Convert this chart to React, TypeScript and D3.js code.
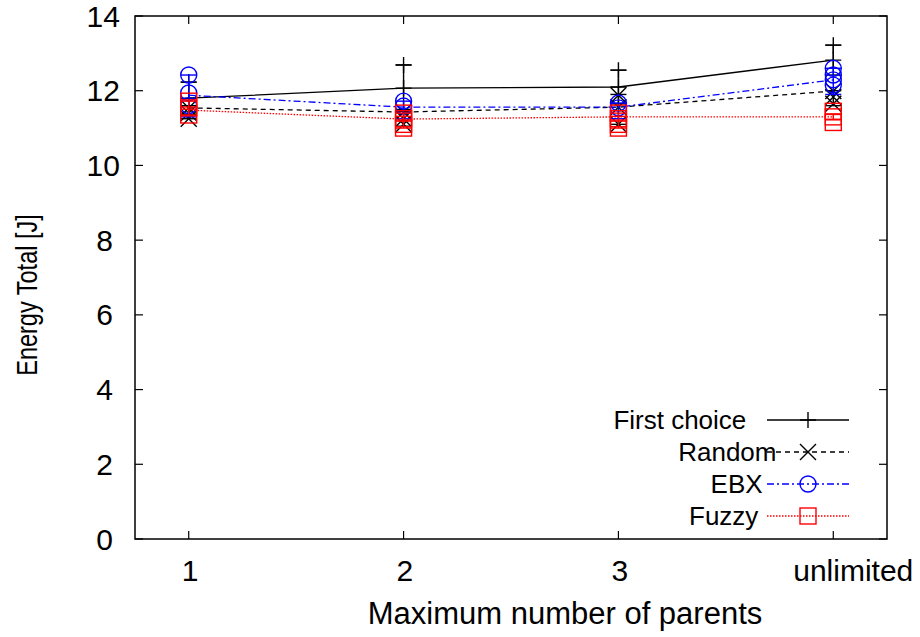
import React from "react";
import * as d3 from "d3";

const categories = ["1", "2", "3", "unlimited"];
const seriesNames = ["First choice", "Random", "EBX", "Fuzzy"];
const yTicks = [0, 2, 4, 6, 8, 10, 12, 14];

const firstChoiceMean = [11.8, 12.07, 12.1, 12.82];
const firstChoiceLow = [11.37, 11.45, 11.65, 12.42];
const firstChoiceHigh = [12.23, 12.69, 12.55, 13.22];
const firstChoicePoints = [[11.8, 12.23], [12.07, 12.69], [12.1, 12.55], [12.82, 13.22]];

const randomMean = [11.54, 11.43, 11.56, 11.99];
const randomLow = [11.25, 11.05, 11.1, 11.6];
const randomHigh = [11.6, 11.5, 11.9, 12.0];
const randomPoints = [[11.54, 11.4, 11.25], [11.43, 11.25, 11.1], [11.88, 11.56, 11.1], [11.99, 11.83, 11.65]];

const ebxMean = [11.88, 11.56, 11.56, 12.29];
const ebxLow = [11.3, 11.25, 11.25, 11.9];
const ebxHigh = [12.42, 11.72, 11.67, 12.6];
const ebxPoints = [[12.42, 11.94, 11.6], [11.72, 11.59], [11.67, 11.54], [12.6, 12.42, 12.29, 12.15]];

const fuzzyMean = [11.48, 11.24, 11.3, 11.3];
const fuzzyLow = [11.35, 11.0, 11.0, 11.22];
const fuzzyHigh = [11.72, 11.4, 11.4, 11.38];
const fuzzyPoints = [
  [11.72, 11.54, 11.35],
  [11.4, 11.25, 11.1, 11.0],
  [11.4, 11.25, 11.1, 11.0],
  [11.45, 11.3, 11.15],
];

type Series = {
  name: string;
  color: string;
  dash: string;
  marker: "plus" | "cross" | "circle" | "square";
  mean: number[];
  low: number[];
  high: number[];
  points: number[][];
};

const series: Series[] = [
  { name: seriesNames[0], color: "#000000", dash: "none", marker: "plus", mean: firstChoiceMean, low: firstChoiceLow, high: firstChoiceHigh, points: firstChoicePoints },
  { name: seriesNames[1], color: "#000000", dash: "5,4", marker: "cross", mean: randomMean, low: randomLow, high: randomHigh, points: randomPoints },
  { name: seriesNames[2], color: "#0000ff", dash: "7,3,2,3", marker: "circle", mean: ebxMean, low: ebxLow, high: ebxHigh, points: ebxPoints },
  { name: seriesNames[3], color: "#ff0000", dash: "1.5,1.5", marker: "square", mean: fuzzyMean, low: fuzzyLow, high: fuzzyHigh, points: fuzzyPoints },
];

const W = 920;
const H = 637;
const L = 135, R = 887, T = 16, B = 539;
const FONT = "'Liberation Sans', Arial, Helvetica, sans-serif";

function Marker({ type, x, y, color }: { type: string; x: number; y: number; color: string }) {
  const s = 8;
  const sw = 1.4;
  if (type === "plus")
    return <path d={`M${x - s},${y}H${x + s}M${x},${y - s}V${y + s}`} stroke={color} strokeWidth={sw} fill="none" />;
  if (type === "cross")
    return <path d={`M${x - s},${y - s}L${x + s},${y + s}M${x - s},${y + s}L${x + s},${y - s}`} stroke={color} strokeWidth={sw} fill="none" />;
  if (type === "circle") return <circle cx={x} cy={y} r={s} stroke={color} strokeWidth={sw} fill="none" />;
  return <rect x={x - s} y={y - s} width={2 * s} height={2 * s} stroke={color} strokeWidth={sw} fill="none" />;
}

export default function App() {
  const x = d3.scaleLinear().domain([0.75, 4.25]).range([L, R]);
  const y = d3.scaleLinear().domain([0, 14]).range([B, T]);
  const xs = categories.map((_, i) => i + 1);
  const tick = 8;

  const legendRows = [420, 452, 484, 516];
  const legendTextEnd = 743;
  const charW = 10.8;

  return (
    <svg width={W} height={H} style={{ position: "absolute", left: 0, top: 0, display: "block" }} fontFamily={FONT}>
      <rect x={0} y={0} width={W} height={H} fill="#fff" />
      {/* ticks */}
      {yTicks.map((t) => (
        <g key={"y" + t}>
          <line x1={L} x2={L + tick} y1={y(t)} y2={y(t)} stroke="#000" strokeWidth={1.2} />
          <line x1={R} x2={R - tick} y1={y(t)} y2={y(t)} stroke="#000" strokeWidth={1.2} />
          <text x={106 - String(t).length * 9.7} y={y(t)} dominantBaseline="central" fontSize={30}>
            {t}
          </text>
        </g>
      ))}
      {xs.map((v, i) => (
        <g key={"x" + i}>
          <line x1={x(v)} x2={x(v)} y1={B} y2={B - tick} stroke="#000" strokeWidth={1.2} />
          <line x1={x(v)} x2={x(v)} y1={T} y2={T + tick} stroke="#000" strokeWidth={1.2} />
          <text x={x(v) - 2.9 - 4.125 * categories[i].length} y={581} fontSize={30}>
            {categories[i]}
          </text>
        </g>
      ))}
      {/* series */}
      {series.map((s, si) => {
        const line = d3
          .line<number>()
          .x((_, i) => x(xs[i]))
          .y((d) => y(d));
        return (
          <g key={si}>
            <path d={line(s.mean) || ""} fill="none" stroke={s.color} strokeWidth={1.3} strokeDasharray={s.dash} />
            {xs.map((v, i) => (
              <g key={i}>
                <line x1={x(v)} x2={x(v)} y1={y(s.low[i])} y2={y(s.high[i])} stroke={s.color} strokeWidth={1.4} />
                <line x1={x(v) - 8} x2={x(v) + 8} y1={y(s.low[i])} y2={y(s.low[i])} stroke={s.color} strokeWidth={1.4} />
                <line x1={x(v) - 8} x2={x(v) + 8} y1={y(s.high[i])} y2={y(s.high[i])} stroke={s.color} strokeWidth={1.4} />
                {s.points[i].map((p, pi) => (
                  <Marker key={pi} type={s.marker} x={x(v)} y={y(p)} color={s.color} />
                ))}
              </g>
            ))}
          </g>
        );
      })}
      {/* legend */}
      {series.map((s, si) => {
        const ry = legendRows[si];
        return (
          <g key={"l" + si}>
            <text x={legendTextEnd - s.name.length * charW} y={ry} dominantBaseline="central" fontSize={26}>
              {s.name}
            </text>
            <line x1={767} x2={849} y1={ry} y2={ry} stroke={s.color} strokeWidth={1.3} strokeDasharray={s.dash} />
            <Marker type={s.marker} x={808} y={ry} color={s.color} />
          </g>
        );
      })}
      {/* frame */}
      <rect x={L} y={T} width={R - L} height={B - T} fill="none" stroke="#000" strokeWidth={1.5} />
      {/* axis titles */}
      <text x={565} y={624} textAnchor="middle" fontSize={31}>
        Maximum number of parents
      </text>
      <text transform={`translate(37,295) rotate(-90) scale(1,1.28)`} textAnchor="middle" fontSize={23.5}>
        Energy Total [J]
      </text>
    </svg>
  );
}
